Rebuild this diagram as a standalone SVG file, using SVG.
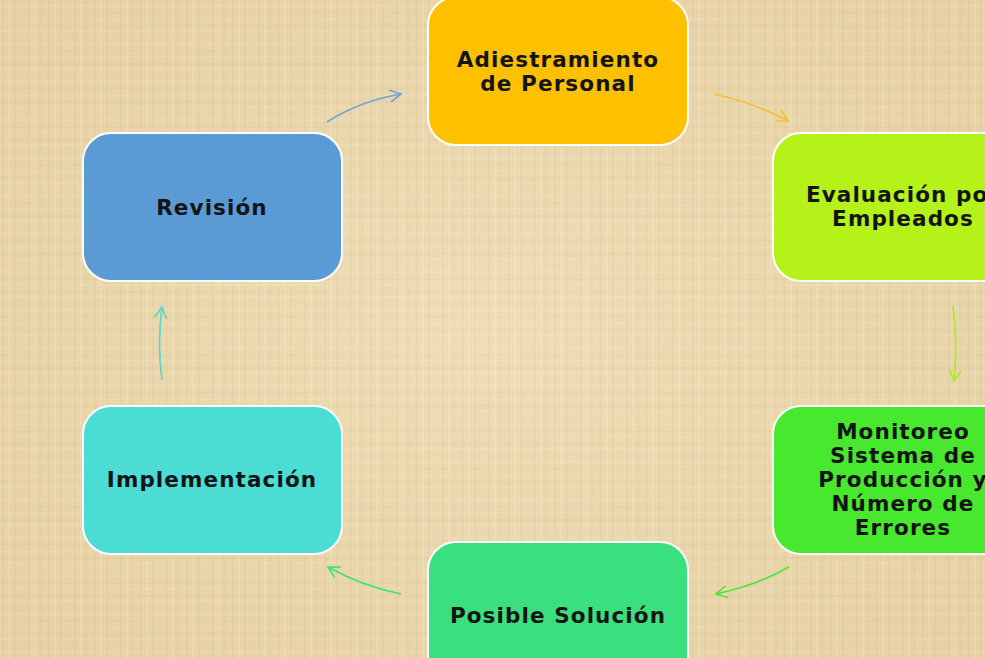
<svg xmlns="http://www.w3.org/2000/svg" width="985" height="658" viewBox="0 0 985 658">
<defs>
<style>
.box{stroke:#ffffff;stroke-width:2}
.t{font-family:"DejaVu Sans",Verdana,sans-serif;font-weight:bold;font-size:21.5px;letter-spacing:1.1px;fill:#141414;text-anchor:middle}
.c{fill:none;stroke-width:1.6}
</style>
<pattern id="tex" width="46" height="38" patternUnits="userSpaceOnUse">
<rect width="46" height="38" fill="#ebd8ad"/>
<path d="M3 0V38M15 0V38M29 0V38M40 0V38" stroke="#d7bd8a" stroke-width="1.2" opacity="0.4"/>
<path d="M0 6H46M0 19H46M0 31H46" stroke="#f5e9c8" stroke-width="1.4" opacity="0.45"/>
<path d="M9 0V38M35 0V38" stroke="#f4e8c6" stroke-width="2" opacity="0.4"/>
<path d="M0 13H46M0 26H46" stroke="#d4b985" stroke-width="1" opacity="0.35"/>
</pattern>
<radialGradient id="glow" cx="50%" cy="50%" r="65%">
<stop offset="0" stop-color="#f6ebcd" stop-opacity="0.3"/>
<stop offset="1" stop-color="#d8bf8c" stop-opacity="0.25"/>
</radialGradient>
<marker id="ah1" markerWidth="14" markerHeight="14" refX="12" refY="7" orient="auto" markerUnits="userSpaceOnUse"><path d="M1 1L12 7L1 13" fill="none" stroke="#6fa3d3" stroke-width="1.6"/></marker>
<marker id="ah2" markerWidth="14" markerHeight="14" refX="12" refY="7" orient="auto" markerUnits="userSpaceOnUse"><path d="M1 1L12 7L1 13" fill="none" stroke="#f7bf2c" stroke-width="1.6"/></marker>
<marker id="ah3" markerWidth="14" markerHeight="14" refX="12" refY="7" orient="auto" markerUnits="userSpaceOnUse"><path d="M1 1L12 7L1 13" fill="none" stroke="#a8ea2a" stroke-width="1.6"/></marker>
<marker id="ah4" markerWidth="14" markerHeight="14" refX="12" refY="7" orient="auto" markerUnits="userSpaceOnUse"><path d="M1 1L12 7L1 13" fill="none" stroke="#4ee43a" stroke-width="1.6"/></marker>
<marker id="ah5" markerWidth="14" markerHeight="14" refX="12" refY="7" orient="auto" markerUnits="userSpaceOnUse"><path d="M1 1L12 7L1 13" fill="none" stroke="#45de83" stroke-width="1.6"/></marker>
<marker id="ah6" markerWidth="14" markerHeight="14" refX="12" refY="7" orient="auto" markerUnits="userSpaceOnUse"><path d="M1 1L12 7L1 13" fill="none" stroke="#4fd8d0" stroke-width="1.6"/></marker>
</defs>
<rect width="985" height="658" fill="url(#tex)"/>
<rect width="985" height="658" fill="url(#glow)"/>
<g id="connectors">
<path class="c" stroke="#6fa3d3" marker-end="url(#ah1)" d="M327 122Q360 101 401 94"/>
<path class="c" stroke="#f7bf2c" marker-end="url(#ah2)" d="M714 94Q755 103 788 121"/>
<path class="c" stroke="#a8ea2a" marker-end="url(#ah3)" d="M953 306Q958 344 954 381"/>
<path class="c" stroke="#4ee43a" marker-end="url(#ah4)" d="M789 567Q755 586 716 594"/>
<path class="c" stroke="#45de83" marker-end="url(#ah5)" d="M401 594Q362 586 328 567"/>
<path class="c" stroke="#4fd8d0" marker-end="url(#ah6)" d="M162 380Q157 344 162 307"/>
</g>
<g id="n-adiestramiento">
<rect class="box" x="428" y="-3" width="260" height="148" rx="28" fill="#ffc000"/>
<text class="t" x="558" y="67">Adiestramiento</text>
<text class="t" x="558" y="91">de Personal</text>
</g>
<g id="n-evaluacion">
<rect class="box" x="773" y="133" width="260" height="148" rx="28" fill="#b4f219"/>
<text class="t" x="903" y="202">Evaluación por</text>
<text class="t" x="903" y="226">Empleados</text>
</g>
<g id="n-monitoreo">
<rect class="box" x="773" y="406" width="260" height="148" rx="28" fill="#48e82f"/>
<text class="t" x="903" y="439">Monitoreo</text>
<text class="t" x="903" y="463">Sistema de</text>
<text class="t" x="903" y="487">Producción y</text>
<text class="t" x="903" y="511">Número de</text>
<text class="t" x="903" y="535">Errores</text>
</g>
<g id="n-posible">
<rect class="box" x="428" y="542" width="260" height="148" rx="28" fill="#3be07e"/>
<text class="t" x="558" y="623">Posible Solución</text>
</g>
<g id="n-implementacion">
<rect class="box" x="83" y="406" width="259" height="148" rx="28" fill="#4bdcd4"/>
<text class="t" x="212" y="487">Implementación</text>
</g>
<g id="n-revision">
<rect class="box" x="83" y="133" width="259" height="148" rx="28" fill="#5b9bd5"/>
<text class="t" x="212" y="215">Revisión</text>
</g>
</svg>
